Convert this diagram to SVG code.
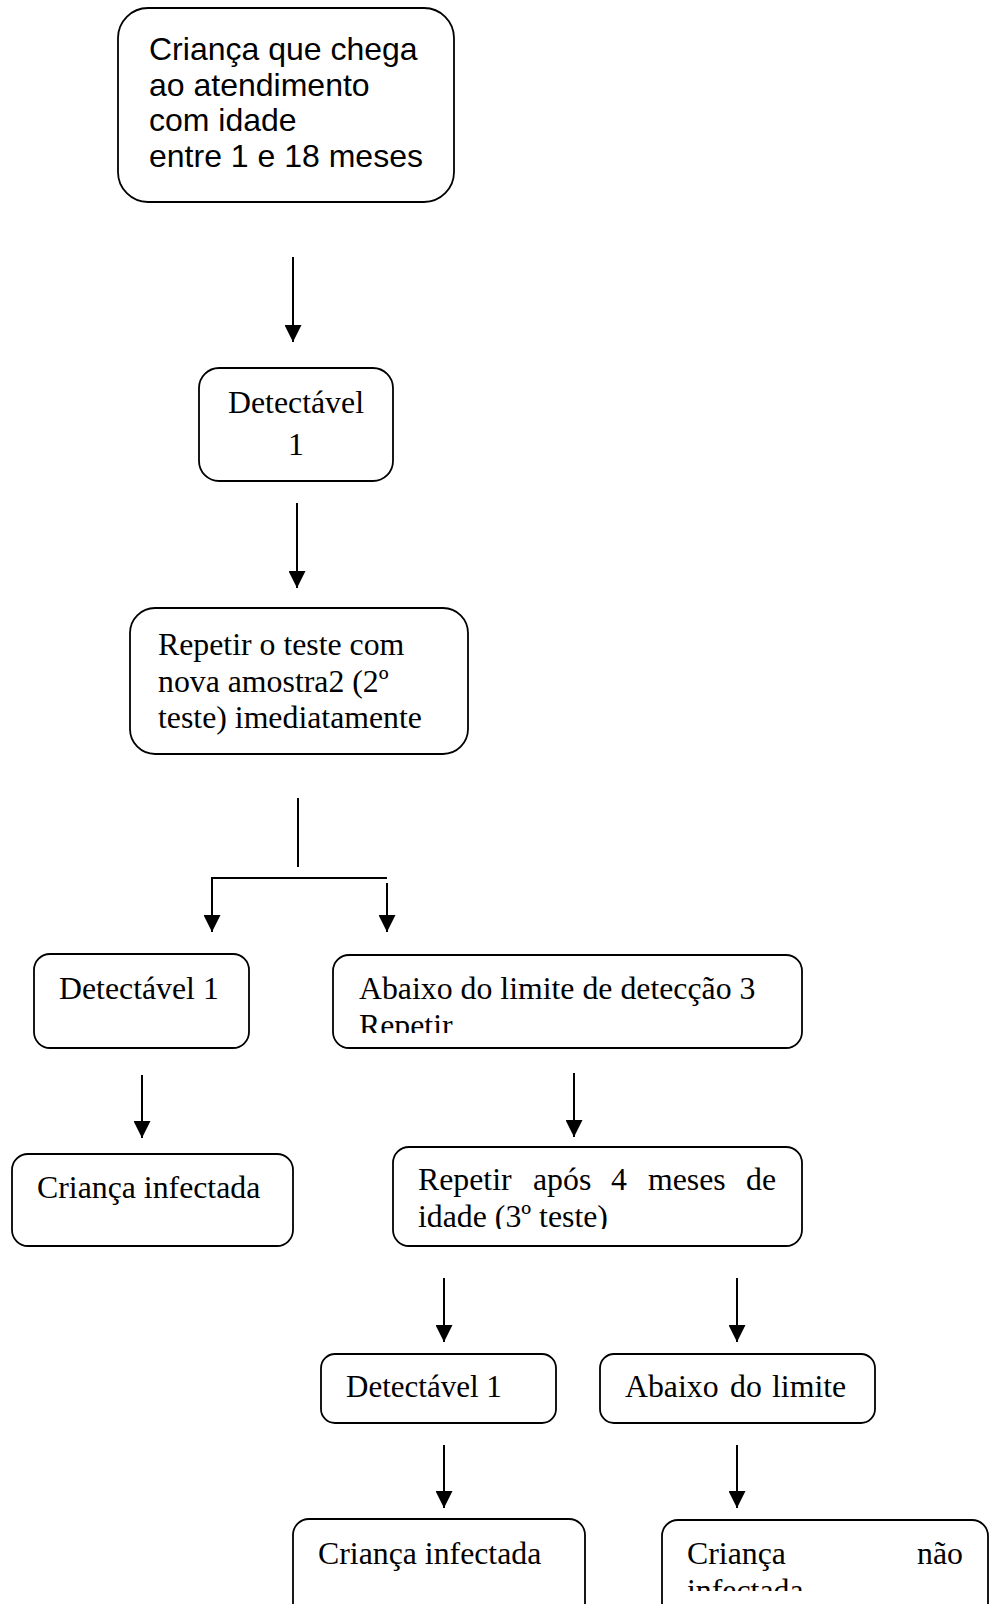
<svg xmlns="http://www.w3.org/2000/svg" width="991" height="1604" viewBox="0 0 991 1604">
<style>
.box{fill:#fff;stroke:#000;stroke-width:1.8}
.t{font-family:"Liberation Serif","Times New Roman",serif;font-size:31.8px;fill:#000}
.s{font-family:"Liberation Sans",Arial,sans-serif;font-size:32px;fill:#000}
.c{stroke:#000;stroke-width:2;fill:none}
</style>
<defs>
<marker id="ah" markerUnits="userSpaceOnUse" markerWidth="17" markerHeight="17" viewBox="0 0 17 17" refX="17" refY="8.5" orient="auto">
<path d="M0,0 L17,8.5 L0,17 z" fill="#000"/>
</marker>
<clipPath id="clipE"><rect x="333" y="955" width="469" height="78"/></clipPath>
<clipPath id="clipG"><rect x="393" y="1147" width="409" height="82"/></clipPath>
<clipPath id="clipK"><rect x="662" y="1519" width="327" height="72"/></clipPath>
</defs>
<g id="connectors">
<line class="c" x1="293" y1="257" x2="293" y2="342" marker-end="url(#ah)"/>
<line class="c" x1="297" y1="503" x2="297" y2="588" marker-end="url(#ah)"/>
<line class="c" x1="298" y1="798" x2="298" y2="867"/>
<line class="c" x1="211" y1="878" x2="387" y2="878"/>
<line class="c" x1="212" y1="877" x2="212" y2="932" marker-end="url(#ah)"/>
<line class="c" x1="387" y1="883" x2="387" y2="932" marker-end="url(#ah)"/>
<line class="c" x1="142" y1="1075" x2="142" y2="1138" marker-end="url(#ah)"/>
<line class="c" x1="574" y1="1073" x2="574" y2="1137" marker-end="url(#ah)"/>
<line class="c" x1="444" y1="1278" x2="444" y2="1342" marker-end="url(#ah)"/>
<line class="c" x1="737" y1="1278" x2="737" y2="1342" marker-end="url(#ah)"/>
<line class="c" x1="444" y1="1445" x2="444" y2="1508" marker-end="url(#ah)"/>
<line class="c" x1="737" y1="1445" x2="737" y2="1508" marker-end="url(#ah)"/>
</g>
<g id="n1">
<rect class="box" x="118" y="8" width="336" height="194" rx="30"/>
<text class="s" x="149" y="60">Criança que chega</text>
<text class="s" x="149" y="95.6">ao atendimento</text>
<text class="s" x="149" y="131.2">com idade</text>
<text class="s" x="149" y="166.8">entre 1 e 18 meses</text>
</g>
<g id="n2">
<rect class="box" x="199" y="368" width="194" height="113" rx="20"/>
<text class="t" x="296" y="413" text-anchor="middle">Detectável</text>
<text class="t" x="296" y="455" text-anchor="middle">1</text>
</g>
<g id="n3">
<rect class="box" x="130" y="608" width="338" height="146" rx="25"/>
<text class="t" x="158" y="655">Repetir o teste com</text>
<text class="t" x="158" y="692">nova amostra2 (2º</text>
<text class="t" x="158" y="728">teste) imediatamente</text>
</g>
<g id="n4">
<rect class="box" x="34" y="954" width="215" height="94" rx="16"/>
<text class="t" x="59" y="999">Detectável 1</text>
</g>
<g id="n5">
<rect class="box" x="333" y="955" width="469" height="93" rx="16"/>
<text class="t" x="359" y="999">Abaixo do limite de detecção 3</text>
<text class="t" x="359" y="1036" clip-path="url(#clipE)">Repetir</text>
</g>
<g id="n6">
<rect class="box" x="12" y="1154" width="281" height="92" rx="16"/>
<text class="t" x="37" y="1198">Criança infectada</text>
</g>
<g id="n7">
<rect class="box" x="393" y="1147" width="409" height="99" rx="16"/>
<text class="t" y="1190"><tspan x="418">Repetir</tspan><tspan x="533">após</tspan><tspan x="611">4</tspan><tspan x="648">meses</tspan><tspan x="746">de</tspan></text>
<text class="t" x="418" y="1227" clip-path="url(#clipG)">idade (3º teste)</text>
</g>
<g id="n8">
<rect class="box" x="321" y="1354" width="235" height="69" rx="14"/>
<text class="t" x="346" y="1397" style="font-size:31px">Detectável 1</text>
</g>
<g id="n9">
<rect class="box" x="600" y="1354" width="275" height="69" rx="14"/>
<text class="t" y="1397"><tspan x="625">Abaixo</tspan><tspan x="730">do</tspan><tspan x="772">limite</tspan></text>
</g>
<g id="n10">
<rect class="box" x="293" y="1519" width="292" height="110" rx="16"/>
<text class="t" x="318" y="1564">Criança infectada</text>
</g>
<g id="n11">
<rect class="box" x="662" y="1520" width="326" height="110" rx="16"/>
<text class="t" y="1564"><tspan x="687">Criança</tspan><tspan x="917">não</tspan></text>
<text class="t" x="687" y="1601" clip-path="url(#clipK)">infectada</text>
</g>
</svg>
